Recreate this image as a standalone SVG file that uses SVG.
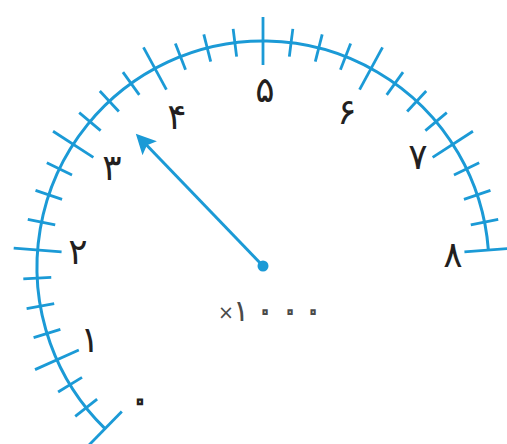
<svg xmlns="http://www.w3.org/2000/svg" xmlns:xlink="http://www.w3.org/1999/xlink" width="507" height="444" viewBox="0 0 507 444">
<style>
.arc{fill:none;stroke:#1b9ad6;stroke-width:3}
.tk{stroke:#1b9ad6;stroke-width:2.8;stroke-linecap:butt}
.needle{stroke:#1b9ad6;stroke-width:3;fill:none}
.lbl{font-family:"DejaVu Sans",sans-serif;font-size:36px;fill:#231f20;text-anchor:middle}
.mul{font-family:"DejaVu Sans",sans-serif;font-size:30px;fill:#4a4a4a;text-anchor:middle}
.x{font-family:"DejaVu Sans",sans-serif;font-size:19px;fill:#4a4a4a;text-anchor:middle}
.ring{fill:#ffffff;stroke:#4a4a4a;stroke-width:2}
.ring0{fill:#ffffff;stroke:#231f20;stroke-width:2.4}
</style>
<defs>
<line id="mn" class="tk" x1="475" y1="267" x2="503" y2="267"/>
<line id="mj" class="tk" x1="465" y1="267" x2="513" y2="267"/>
<marker id="ah" viewBox="0 0 10 10" refX="8" refY="5" markerUnits="userSpaceOnUse" markerWidth="26" markerHeight="20" orient="auto">
<path d="M0,0 L10,5 L0,10 L2,5 z" fill="#1b9ad6"/>
</marker>
</defs>
<rect width="507" height="444" fill="#ffffff"/>
<g id="dial">
<path class="arc" d="M105,428.6 A226,226 0 1 1 488.36,249.98"/>
<use xlink:href="#mj" transform="rotate(-4.32 263 267)"/>
<use xlink:href="#mn" transform="rotate(-11.46 263 267)"/>
<use xlink:href="#mn" transform="rotate(-18.60 263 267)"/>
<use xlink:href="#mn" transform="rotate(-25.74 263 267)"/>
<use xlink:href="#mj" transform="rotate(-32.88 263 267)"/>
<use xlink:href="#mn" transform="rotate(-40.02 263 267)"/>
<use xlink:href="#mn" transform="rotate(-47.16 263 267)"/>
<use xlink:href="#mn" transform="rotate(-54.30 263 267)"/>
<use xlink:href="#mj" transform="rotate(-61.44 263 267)"/>
<use xlink:href="#mn" transform="rotate(-68.58 263 267)"/>
<use xlink:href="#mn" transform="rotate(-75.72 263 267)"/>
<use xlink:href="#mn" transform="rotate(-82.86 263 267)"/>
<use xlink:href="#mj" transform="rotate(-90 263 267)"/>
<use xlink:href="#mn" transform="rotate(-97.14 263 267)"/>
<use xlink:href="#mn" transform="rotate(-104.28 263 267)"/>
<use xlink:href="#mn" transform="rotate(-111.42 263 267)"/>
<use xlink:href="#mj" transform="rotate(-118.56 263 267)"/>
<use xlink:href="#mn" transform="rotate(-125.70 263 267)"/>
<use xlink:href="#mn" transform="rotate(-132.84 263 267)"/>
<use xlink:href="#mn" transform="rotate(-139.98 263 267)"/>
<use xlink:href="#mj" transform="rotate(-147.12 263 267)"/>
<use xlink:href="#mn" transform="rotate(-154.26 263 267)"/>
<use xlink:href="#mn" transform="rotate(-161.40 263 267)"/>
<use xlink:href="#mn" transform="rotate(-168.54 263 267)"/>
<use xlink:href="#mj" transform="rotate(-175.68 263 267)"/>
<use xlink:href="#mn" transform="rotate(-182.82 263 267)"/>
<use xlink:href="#mn" transform="rotate(-189.96 263 267)"/>
<use xlink:href="#mn" transform="rotate(-197.10 263 267)"/>
<use xlink:href="#mj" transform="rotate(-204.24 263 267)"/>
<use xlink:href="#mn" transform="rotate(-211.38 263 267)"/>
<use xlink:href="#mn" transform="rotate(-218.52 263 267)"/>
<use xlink:href="#mj" transform="rotate(-225.66 263 267)"/>
</g>
<g id="labels">
<text class="lbl ring0" x="140" y="412">۰</text>
<text class="lbl" x="90" y="352">۱</text>
<text class="lbl" x="78" y="264">۲</text>
<text class="lbl" x="112" y="180">۳</text>
<text class="lbl" x="177" y="129">۴</text>
<text class="lbl" x="265" y="102">۵</text>
<text class="lbl" x="347" y="124">۶</text>
<text class="lbl" x="418" y="169">۷</text>
<text class="lbl" x="453" y="267">۸</text>
</g>
<g id="connectors">
<line class="needle" x1="263" y1="266" x2="138.6" y2="136.7" marker-end="url(#ah)"/>
</g>
<g id="pivot">
<circle cx="263" cy="266" r="5.5" fill="#1b9ad6"/>
</g>
<g id="unit">
<text class="x" x="226" y="319">×</text>
<text class="mul" x="241 265 290 313" y="321">۱<tspan class="ring">۰۰۰</tspan></text>
</g>
</svg>
